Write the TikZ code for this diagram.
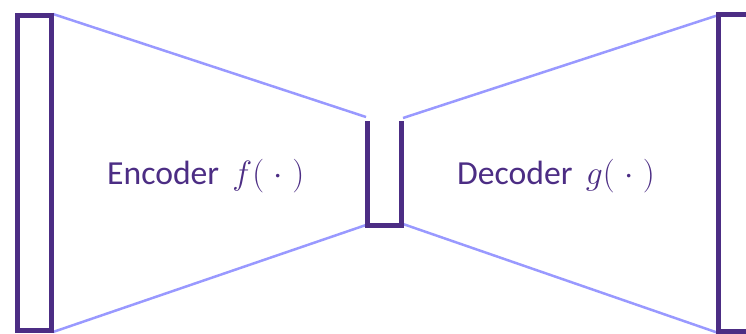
\documentclass[tikz,border=0pt]{standalone}
\usepackage{fix-cm}
\usepackage{fontspec}
\setmainfont{Carlito}
\definecolor{codepurple}{RGB}{76,45,132}
\definecolor{linkblue}{RGB}{153,153,255}
\begin{document}
\begin{tikzpicture}[x=1bp,y=-1bp,
  box/.style={codepurple,line width=5bp},
  link/.style={linkblue,line width=2.5bp},
  lbl/.style={codepurple,anchor=base west,inner sep=0pt,font=\fontsize{33.8}{40}\selectfont}]
 \useasboundingbox (0,0) rectangle (746,333);
 % corners of the three layers
 \coordinate (inTL) at (17.5,15);   \coordinate (inBR) at (51,330.5);
 \coordinate (inTR) at (53,14);     \coordinate (inBRo) at (53,332);
 \coordinate (codeTL) at (367,121); \coordinate (codeTR) at (401,121);
 \coordinate (codeBL) at (367,225); \coordinate (codeBR) at (401,225);
 \coordinate (outTL) at (718,14.5); \coordinate (outBR) at (770,331.5);
 % light links
 \draw[link] (inTR) -- ([xshift=-1bp,yshift=4bp]codeTL);
 \draw[link] (inBRo) -- ([xshift=-1bp]codeBL);
 \draw[link] ([xshift=2bp,yshift=3bp]codeTR) -- ([xshift=-1bp,yshift=-1bp]outTL);
 \draw[link] ([xshift=2bp,yshift=1bp]codeBR) -- ([xshift=-1bp,yshift=-1bp]outTL |- outBR);
 % layers
 \draw[box] (inTL) rectangle (inBR);
 \draw[box] (codeTL) -- (codeBL) -- (codeBR) -- (codeTR);
 \draw[box] (outTL) rectangle (outBR);
 % labels
 \node[lbl] (enc) at (107,184) {Encoder $\,f(\;\cdot\;)$};
 \node[lbl] (dec) at (457,184) {Decoder $\,g(\;\cdot\;)$};
\end{tikzpicture}
\end{document}
